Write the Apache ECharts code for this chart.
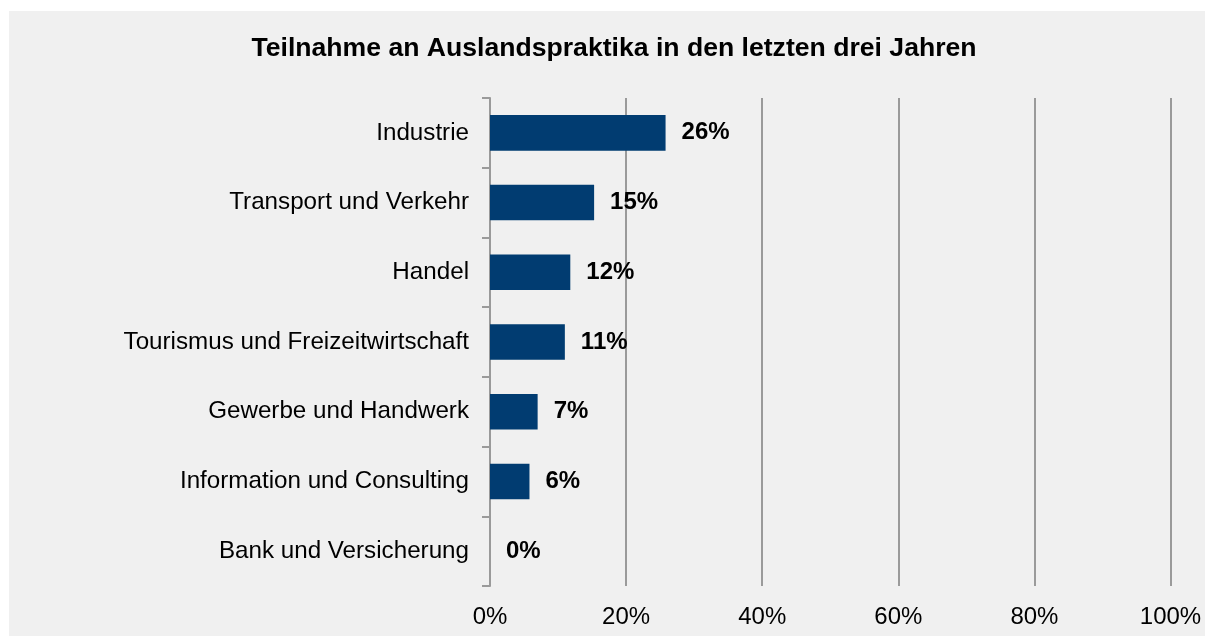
<!DOCTYPE html>
<html>
<head>
<meta charset="utf-8">
<script src="https://cdn.jsdelivr.net/npm/echarts@6/dist/echarts.min.js"></script>
<style>
  html, body { margin: 0; padding: 0; background: #ffffff; }
  #chart { width: 1205px; height: 636px; }
</style>
</head>
<body>
<div id="chart"></div>
<script>
const titleText = 'Teilnahme an Auslandspraktika in den letzten drei Jahren';
const categories = [
  'Industrie',
  'Transport und Verkehr',
  'Handel',
  'Tourismus und Freizeitwirtschaft',
  'Gewerbe und Handwerk',
  'Information und Consulting',
  'Bank und Versicherung'
];
const values = [25.8, 15.3, 11.8, 11.0, 7.0, 5.8, 0];
const tickValues = [0, 20, 40, 60, 80, 100];

const FONT = 'Arial, "Liberation Sans", sans-serif';
const chart = echarts.init(document.getElementById('chart'), null, { renderer: 'canvas' });

chart.setOption({
  backgroundColor: '#ffffff',
  animation: false,
  graphic: [{
    type: 'rect',
    left: 9, top: 11, z: -10,
    shape: { width: 1196, height: 625 },
    style: { fill: '#f0f0f0' },
    silent: true
  }],
  title: {
    text: titleText,
    left: 609,
    top: 30,
    textAlign: 'center',
    textStyle: { fontFamily: FONT, fontSize: 26.6, fontWeight: 'bold', color: '#000' }
  },
  grid: { left: 490, right: 34.5, top: 98, bottom: 50, containLabel: false },
  xAxis: {
    type: 'value',
    min: tickValues[0],
    max: tickValues[tickValues.length - 1],
    interval: 20,
    axisLine: { show: false },
    axisTick: { show: false },
    splitLine: { show: true, lineStyle: { color: '#9a9a9a', width: 2 } },
    axisLabel: {
      margin: 19,
      fontFamily: FONT, fontSize: 24, color: '#000',
      formatter: v => v + '%'
    }
  },
  yAxis: {
    type: 'category',
    inverse: true,
    data: categories,
    axisLine: { show: true, lineStyle: { color: '#9a9a9a', width: 2 } },
    axisTick: { show: true, length: 8, lineStyle: { color: '#9a9a9a', width: 2 } },
    splitLine: { show: false },
    axisLabel: { margin: 21, fontFamily: FONT, fontSize: 24.2, color: '#000', padding: [3, 0, 0, 0] }
  },
  series: [{
    type: 'bar',
    data: values,
    barWidth: '51%',
    itemStyle: { color: '#013c71' },
    label: {
      show: true,
      position: 'right',
      distance: 16,
      fontFamily: FONT, fontSize: 24, fontWeight: 'bold', color: '#000',
      padding: [3, 0, 0, 0],
      formatter: p => Math.round(p.value) + '%'
    }
  }]
});
</script>
</body>
</html>
